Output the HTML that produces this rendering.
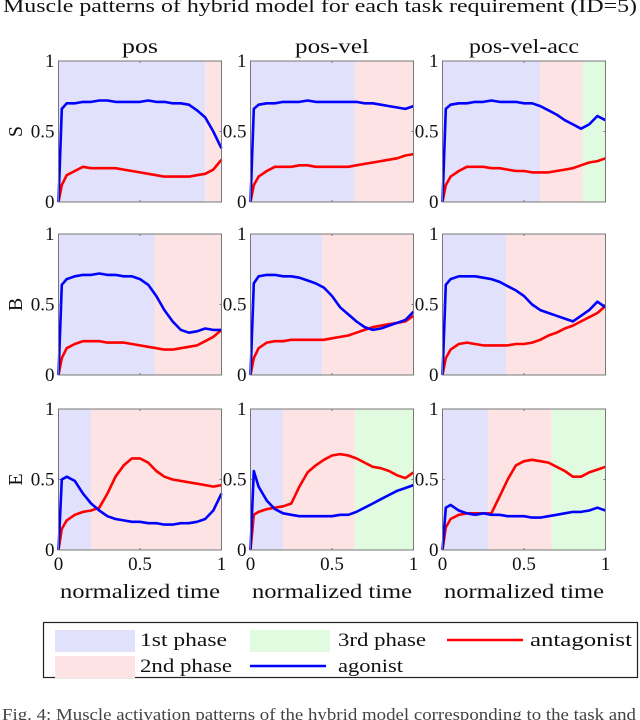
<!DOCTYPE html>
<html><head><meta charset="utf-8"><style>
body{margin:0;background:#fff;}
svg{display:block;font-family:"Liberation Serif",serif;}
</style></head><body>
<svg id="fig" width="640" height="720" viewBox="0 0 640 720" xmlns="http://www.w3.org/2000/svg"></svg>
<script>
const times=[0,.02,.05,.1,.15,.2,.25,.3,.35,.4,.45,.5,.55,.6,.65,.7,.75,.8,.85,.9,.95,1];
const rowNames=["S","B","E"];
const colNames=["pos","pos-vel","pos-vel-acc"];
const agonist=[
[[0,.66,.70,.70,.71,.71,.72,.72,.71,.71,.71,.71,.72,.71,.71,.70,.70,.69,.65,.60,.50,.38],
 [0,.66,.69,.70,.70,.71,.71,.71,.72,.71,.71,.71,.71,.71,.71,.70,.70,.69,.68,.67,.66,.68],
 [0,.66,.69,.70,.70,.71,.71,.72,.71,.71,.71,.70,.70,.68,.65,.62,.58,.55,.52,.55,.61,.58]],
[[0,.64,.68,.70,.71,.71,.72,.71,.71,.70,.70,.68,.64,.56,.46,.38,.32,.30,.31,.33,.32,.32],
 [0,.65,.70,.71,.71,.70,.70,.69,.67,.65,.62,.56,.48,.43,.38,.34,.32,.33,.35,.37,.39,.45],
 [0,.64,.68,.70,.70,.70,.69,.68,.66,.63,.60,.56,.50,.46,.44,.42,.40,.38,.42,.46,.52,.48]],
[[0,.50,.52,.49,.40,.33,.28,.24,.22,.21,.20,.20,.19,.19,.18,.18,.19,.19,.20,.22,.28,.40],
 [0,.56,.45,.35,.29,.26,.25,.24,.24,.24,.24,.24,.25,.25,.27,.30,.33,.36,.39,.42,.44,.46],
 [0,.30,.32,.28,.26,.25,.26,.25,.25,.24,.24,.24,.23,.23,.24,.25,.26,.27,.27,.28,.30,.28]]];
const antagonist=[
[[0,.12,.19,.22,.25,.24,.24,.24,.24,.23,.22,.21,.20,.19,.18,.18,.18,.18,.19,.20,.23,.30],
 [0,.12,.18,.22,.25,.25,.25,.26,.26,.25,.25,.25,.25,.25,.26,.27,.28,.29,.30,.31,.33,.34],
 [0,.12,.18,.22,.25,.25,.25,.24,.24,.23,.22,.22,.21,.21,.21,.22,.23,.24,.26,.28,.29,.31]],
[[0,.12,.19,.22,.24,.24,.24,.23,.23,.23,.22,.21,.20,.19,.18,.18,.19,.20,.21,.24,.27,.32],
 [0,.12,.19,.23,.24,.24,.25,.25,.25,.25,.25,.26,.27,.28,.30,.32,.34,.35,.36,.37,.38,.42],
 [0,.12,.18,.22,.23,.22,.21,.21,.21,.21,.22,.22,.23,.25,.28,.30,.33,.35,.38,.41,.44,.49]],
[[0,.15,.21,.25,.27,.28,.30,.40,.52,.60,.65,.65,.62,.56,.52,.50,.49,.48,.47,.46,.45,.46],
 [0,.25,.27,.29,.30,.31,.33,.45,.55,.60,.64,.67,.68,.67,.65,.62,.59,.58,.56,.53,.51,.55],
 [0,.16,.22,.25,.26,.26,.26,.26,.38,.50,.60,.63,.64,.63,.62,.59,.56,.52,.52,.55,.57,.59]]];
const phaseBounds=[
[[0,.9,1],[0,.64,1],[0,.6,.86,1]],
[[0,.59,1],[0,.44,1],[0,.39,1]],
[[0,.2,1],[0,.2,.64,1],[0,.28,.67,1]]];
const xTicks=[0,0.5,1];
const yTicks=[0,0.5,1];

const NS="http://www.w3.org/2000/svg";
const svg=document.getElementById("fig");
const phaseColors=["#e1e1fb","#fde3e3","#e1fbe1"];
const colX=[58.5,250.5,442.5],rowY=[61,234,409],PW=163,PH=141;
function mk(tag,attrs,parent){const e=document.createElementNS(NS,tag);for(const k in attrs)e.setAttribute(k,attrs[k]);(parent||svg).appendChild(e);return e;}
function txt(s,x,y,size,anchor,parent,len){const a={x:x,y:y,"font-size":size,"text-anchor":anchor||"middle",fill:"#111"};if(len){a.textLength=len;a.lengthAdjust="spacingAndGlyphs";}const t=mk("text",a,parent);t.textContent=s;return t;}

const title=txt("Muscle patterns of hybrid model for each task requirement (ID=5)",320,12,19,"middle",null,634);



const colTitleLen=[36,74,110];
for(let r=0;r<3;r++){for(let c=0;c<3;c++){
  const x0=colX[c],y0=rowY[r];
  const sx=v=>x0+v*PW, sy=v=>y0+PH-v*PH;
  const g=mk("g",{});
  
  
  const pb=phaseBounds[r][c];
  for(let i=0;i<pb.length-1;i++){
    const rc=mk("rect",{x:sx(pb[i]),y:y0,width:sx(pb[i+1])-sx(pb[i]),height:PH,fill:phaseColors[i]},g);
    
    
  }
  const mkLine=(arr,col,name)=>{
    const p=mk("polyline",{points:arr.map((v,i)=>sx(times[i]).toFixed(1)+","+sy(v).toFixed(1)).join(" "),fill:"none",stroke:col,"stroke-width":2.6,"stroke-linejoin":"round"},g);
    
    
  };
  mkLine(antagonist[r][c],"#ff0000","antagonist-line");
  mkLine(agonist[r][c],"#0000ff","agonist-line");
  mk("rect",{x:x0,y:y0,width:PW,height:PH,fill:"none",stroke:"#777","stroke-width":1},g);
  xTicks.forEach(t=>{mk("line",{x1:sx(t),x2:sx(t),y1:y0+PH,y2:y0+PH-2,stroke:"#777"},g);mk("line",{x1:sx(t),x2:sx(t),y1:y0,y2:y0+2,stroke:"#777"},g);});
  yTicks.forEach(t=>{mk("line",{x1:x0,x2:x0+2,y1:sy(t),y2:sy(t),stroke:"#777"},g);mk("line",{x1:x0+PW,x2:x0+PW-2,y1:sy(t),y2:sy(t),stroke:"#777"},g);
    const l=txt(String(t),x0-4,sy(t)+6,19,"end",g);
    
    });
  if(r===0){const t=txt(colNames[c],x0+PW/2,y0-8,20,"middle",g,colTitleLen[c]);
    
    }
  if(c===0){const t=mk("text",{x:0,y:0,"font-size":20,"text-anchor":"middle",fill:"#111",transform:"translate(22,"+(y0+PH/2)+") rotate(-90)"},g);t.textContent=rowNames[r];
    
    }
  if(r===2){xTicks.forEach(t=>{const l=txt(String(t),sx(t),y0+PH+20,19,"middle",g);
      
      });
    const xl=txt("normalized time",x0+PW/2,y0+PH+48,20,"middle",g,160);
    
    }
}}

const lg=mk("g",{});


mk("rect",{x:43.5,y:622.5,width:594,height:55,fill:"#fff",stroke:"#222","stroke-width":1.2},lg);
const entries=[["patch",phaseColors[0],"1st phase",55,640,87,140],["patch",phaseColors[2],"3rd phase",250,640,88,338],["line","#ff0000","antagonist",447,640,102,530],
["patch",phaseColors[1],"2nd phase",55,666,92,140],["line","#0000ff","agonist",250,666,65,338]];
entries.forEach(e=>{
  const eg=mk("g",{},lg);
  
  
  if(e[0]==="patch")mk("rect",{x:e[3],y:e[4]-10,width:80,height:22,fill:e[1]},eg);
  else mk("line",{x1:e[3],x2:e[3]+76,y1:e[4],y2:e[4],stroke:e[1],"stroke-width":2.6},eg);
  txt(e[2],e[6],e[4]+6,19,"start",eg,e[5]);
});
const cap=txt("Fig. 4: Muscle activation patterns of the hybrid model corresponding to the task and",2,720,17,"start",null,634);
cap.setAttribute('fill','#444');


</script>
</body></html>
